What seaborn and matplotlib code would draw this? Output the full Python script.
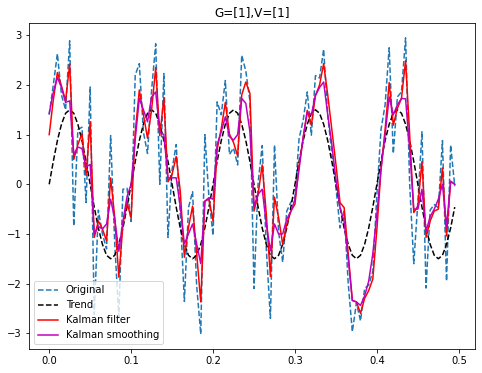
import numpy as np
import pandas as pd
import seaborn as sns
import matplotlib
matplotlib.use("Agg")
import matplotlib.pyplot as plt

# time axis: 100 samples, step 0.005
t = np.arange(0, 0.5, 0.005)[:100]

original = [1.4, 2.0, 2.63, 1.8, 1.5, 2.89, -0.84, 1.1, 1.15, -0.37,
            1.96, -2.62, -0.52, -1.0, -1.3, 0.98, -1.2, -2.67, -0.1, -0.08,
            -0.75, 2.2, 2.43, 1.05, 0.62, 1.9, 2.83, 0.0, 2.23, -1.07,
            0.3, 0.8, -0.6, -2.36, -0.47, -0.15, -2.04, -3.02, 1.0, -0.27,
            -1.03, 1.66, 1.4, 2.09, 0.6, 0.73, 0.39, 2.6, 2.28, 1.68,
            -2.1, 0.03, 0.78, -1.3, -2.7, 0.79, -0.96, -1.57, -0.54, -0.36,
            -0.26, 0.92, 1.29, 1.86, 0.99, 2.19, 2.14, 2.72, 1.38, 0.63,
            -0.07, -0.88, -0.54, -2.0, -2.97, -2.39, -2.75, -2.1, -2.03, -1.76,
            -0.2, 1.1, 1.6, 2.75, 0.62, 1.76, 1.86, 2.95, 0.0, -1.6,
            -0.35, 1.06, -2.09, -0.52, -0.41, -0.47, 0.88, -1.95, 0.79, -0.04]

trend = [0, 0.46, 0.88, 1.21, 1.43, 1.5, 1.43, 1.21, 0.88, 0.46,
         0, -0.46, -0.88, -1.21, -1.43, -1.5, -1.43, -1.21, -0.88, -0.46,
         0, 0.46, 0.88, 1.21, 1.43, 1.5, 1.43, 1.21, 0.88, 0.46,
         0, -0.46, -0.88, -1.21, -1.43, -1.5, -1.43, -1.21, -0.88, -0.46,
         0, 0.46, 0.88, 1.21, 1.43, 1.5, 1.43, 1.21, 0.88, 0.46,
         0, -0.46, -0.88, -1.21, -1.43, -1.5, -1.43, -1.21, -0.88, -0.46,
         0, 0.46, 0.88, 1.21, 1.43, 1.5, 1.43, 1.21, 0.88, 0.46,
         0, -0.46, -0.88, -1.21, -1.43, -1.5, -1.43, -1.21, -0.88, -0.46,
         0, 0.46, 0.88, 1.21, 1.43, 1.5, 1.43, 1.21, 0.88, 0.46,
         0, -0.46, -0.88, -1.21, -1.43, -1.5, -1.43, -1.21, -0.88, -0.46]

kalman_filter = [1.0, 1.7, 2.25, 1.98, 1.68, 2.42, 0.5, 0.8, 1.02, 0.18,
                 1.26, -1.07, -0.74, -0.9, -1.14, 0.13, -0.67, -1.87, -0.81, -0.37,
                 -0.68, 1.05, 1.9, 1.4, 0.93, 1.5, 2.35, 0.98, 1.74, 0.05,
                 0.2, 0.56, -0.14, -1.47, -0.87, -0.44, -1.4, -2.37, -0.34, -0.3,
                 -0.74, 0.7, 1.12, 1.65, 1.01, 0.84, 0.57, 1.8, 2.06, 1.83,
                 -0.54, -0.2, 0.39, -0.6, -1.86, -0.26, -0.67, -1.21, -0.81, -0.54,
                 -0.4, 0.39, 0.93, 1.49, 1.19, 1.79, 2.0, 2.43, 1.8, 1.1,
                 0.4, -0.37, -0.47, -1.4, -2.34, -2.37, -2.6, -2.3, -2.14, -1.91,
                 -0.9, 0.3, 1.1, 2.05, 1.19, 1.53, 1.73, 2.49, 1.0, -0.57,
                 -0.44, 0.46, -1.07, -0.74, -0.54, -0.5, 0.33, -1.04, 0.06, 0.0]

kalman_smooth = [1.43, 1.85, 2.15, 1.95, 1.65, 1.68, 0.6, 0.75, 0.72, 0.35,
                 0.4, -1.0, -0.85, -0.9, -0.8, -0.3, -0.7, -1.35, -0.75, -0.25,
                 0.0, 0.9, 1.73, 1.5, 1.26, 1.76, 1.86, 1.06, 1.0, 0.13,
                 0.13, 0.13, -0.45, -1.2, -1.0, -0.8, -1.2, -1.6, -0.34, -0.27,
                 -0.3, 0.8, 1.06, 1.36, 0.96, 0.89, 1.0, 1.73, 1.63, 1.06,
                 -0.44, -0.2, -0.1, -0.8, -1.34, -0.8, -1.0, -1.0, -0.7, -0.55,
                 -0.3, 0.3, 0.95, 1.45, 1.4, 1.79, 1.95, 2.06, 1.4, 0.8,
                 0.1, -0.47, -0.75, -1.5, -2.34, -2.37, -2.44, -2.25, -1.95, -1.4,
                 -0.6, 0.3, 1.0, 1.76, 1.4, 1.6, 1.73, 1.72, 0.7, -0.5,
                 -0.5, -0.1, -0.95, -0.65, -0.5, -0.3, 0.0, -0.85, 0.06, 0.0]

fig, ax = plt.subplots(figsize=(482 / 72, 373 / 72), dpi=72)

sns.lineplot(x=t, y=original, ax=ax, color='#1f77b4', linestyle='--', label='Original')
sns.lineplot(x=t, y=trend, ax=ax, color='k', linestyle='--', label='Trend')
sns.lineplot(x=t, y=kalman_filter, ax=ax, color='r', label='Kalman filter')
sns.lineplot(x=t, y=kalman_smooth, ax=ax, color='m', label='Kalman smoothing')

ax.set_title('G=[1],V=[1]')
ax.legend(loc='lower left')

plt.subplots_adjust(left=0.060, right=0.9855, bottom=0.0643, top=0.9383)
plt.savefig('out.png', dpi=72)
